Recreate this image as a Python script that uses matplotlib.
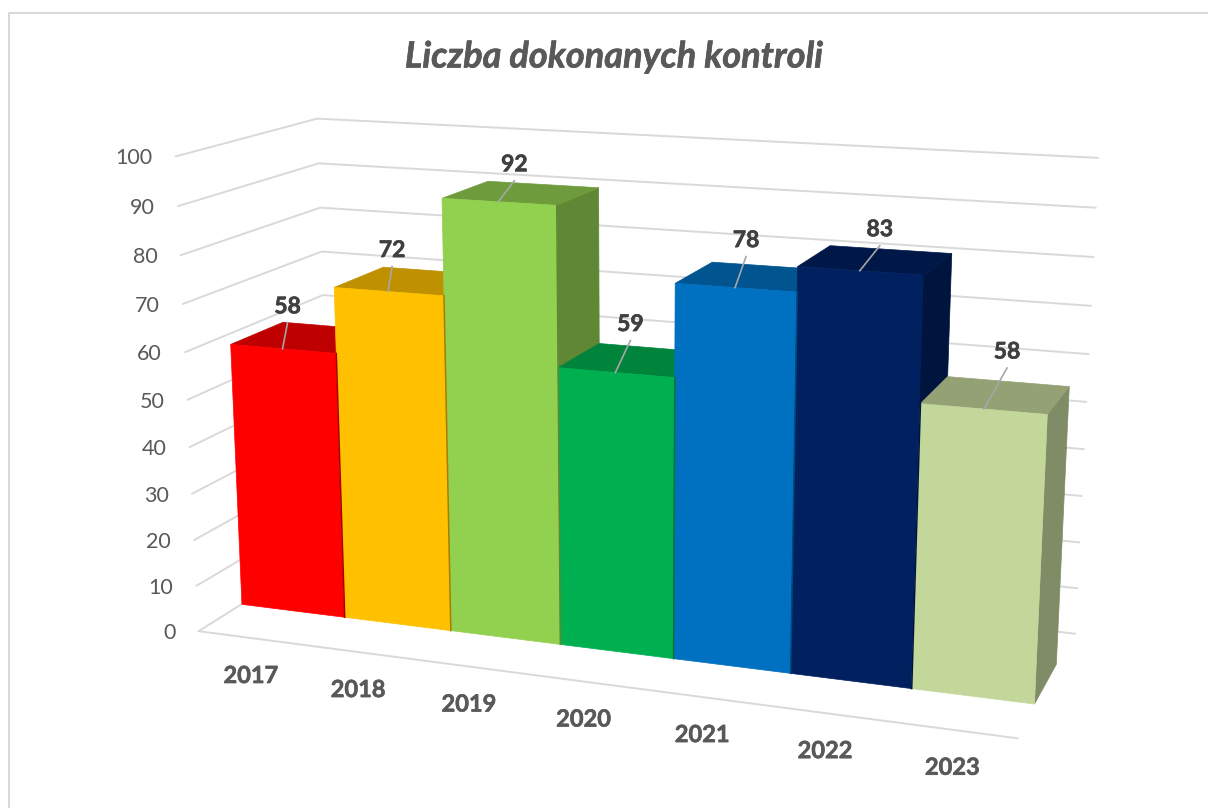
import matplotlib
matplotlib.use("Agg")
import matplotlib.pyplot as plt
import matplotlib.patheffects as pe
from matplotlib.colors import to_rgb
from matplotlib.patches import Polygon
import numpy as np

# =========================
# INPUT DATA
# =========================
title = "Liczba dokonanych kontroli"
years = ["2017", "2018", "2019", "2020", "2021", "2022", "2023"]
counts = [58, 72, 92, 59, 78, 83, 58]
y_ticks = [0, 10, 20, 30, 40, 50, 60, 70, 80, 90, 100]
bar_colors = ["#FF0000", "#FFC000", "#92D050", "#00B050", "#0070C0", "#002060", "#C4D79B"]

# =========================
# 3D BOX -> PICTURE PIXELS
# =========================
# corners of the chart box: (category, value, depth) and where they land
box_points = [
    (0, 0, 0, 199, 630),
    (0, 100, 0, 175, 157),
    (0, 0, 1, 331, 549),
    (0, 100, 1, 318, 118),
    (7, 0, 1, 1075, 633),
    (7, 100, 1, 1098, 158),
    (7, 0, 0, 1018, 739),
]

rows, rhs = [], []
for cx, cy, cz, u, v in box_points:
    p = [cx / 7, cy / 100, cz, 1]
    rows.append(p + [0, 0, 0, 0] + [-u * c for c in p[:3]])
    rows.append([0, 0, 0, 0] + p + [-v * c for c in p[:3]])
    rhs += [u, v]
sol = np.linalg.lstsq(np.array(rows, float), np.array(rhs, float), rcond=None)[0]
cam = np.append(sol, 1).reshape(3, 4)


def project(cx, cy, cz):
    h = cam @ np.array([cx / 7, cy / 100, cz, 1])
    return h[0] / h[2], h[1] / h[2]


def shade(color, k):
    return tuple(c * k for c in to_rgb(color))


def heavier(color, width=0.45):
    return [pe.withStroke(linewidth=width, foreground=color)]


# =========================
# FIGURE
# =========================
fig = plt.figure(figsize=(12.08, 8.08), dpi=100, facecolor="white")
ax = fig.add_axes([0, 0, 1, 1])
ax.set_xlim(0, 1208)
ax.set_ylim(808, 0)
ax.axis("off")
plt.rcParams["font.family"] = ["Lato", "DejaVu Sans"]

# chart frame, cut off on the right and at the bottom
ax.plot([9, 9, 1208], [808, 13, 13], color="#D9D9D9", lw=1.5)

ax.text(614, 57, title, fontsize=26, fontweight="bold", fontstyle="italic",
        color="#595959", ha="center", va="center", path_effects=heavier("#595959"))

# =========================
# WALLS AND TICKS
# =========================
grid = dict(color="#D9D9D9", lw=1.4, solid_capstyle="round", solid_joinstyle="round")
for val in y_ticks:
    pts = [project(0, val, 0), project(0, val, 1), project(7, val, 1)]
    ax.plot(*zip(*pts), **grid)
    x0, y0 = pts[0]
    ax.text(x0 - 23, y0 + 2, str(val), fontsize=15.5, color="#595959", ha="right", va="center")

ax.plot(*zip(project(0, 0, 0), project(7, 0, 0)), **grid)

for i, year in enumerate(years):
    x0, y0 = project(i + 0.5, 0, 0)
    ax.text(x0, y0 + 37.5, year, fontsize=17, fontweight="bold", color="#595959",
            ha="center", va="center", path_effects=heavier("#595959"))

# =========================
# BARS
# =========================
z_front, z_back = 0.30, 0.68
x_shift = 0.005
h_scale = 0.995  # bars stop just under the gridlines in the original
# leader line ends, pixels from the middle of the bar's top front edge
leader_dx = [5, 4, 16, 15, 11, 20, 23]
leader_dy = [-26, -25, -21, -32, -31, -25, -41]

for i, (val, col) in enumerate(zip(counts, bar_colors)):
    l, r = i + x_shift, min(i + 1 + x_shift, 7 - 0.015)
    h = val * h_scale
    dark = shade(col, 0.65)
    side = [project(r, 0, z_front), project(r, 0, z_back),
            project(r, h, z_back), project(r, h, z_front)]
    top = [project(l, h, z_front), project(r, h, z_front),
           project(r, h, z_back), project(l, h, z_back)]
    front = [project(l, 0, z_front), project(r, 0, z_front),
             project(r, h, z_front), project(l, h, z_front)]
    ax.add_patch(Polygon(side, fc=dark, ec=dark, lw=0.5, zorder=3 + i))
    ax.add_patch(Polygon(top, fc=shade(col, 0.75), ec=shade(col, 0.75), lw=0.5, zorder=3 + i))
    ax.add_patch(Polygon(front, fc=col, ec=col, lw=0.5, zorder=3 + i))
    # thin dark sliver of the side face between neighbouring bars
    if i < len(counts) - 1:
        ax.plot(*zip(project(r, 0, z_front), project(r, h, z_front)), color=dark, lw=1.1, zorder=15)

for i, val in enumerate(counts):
    x0, y0 = project(i + 0.5, val * h_scale, z_front)
    x1, y1 = x0 + leader_dx[i], y0 + leader_dy[i]
    ax.plot([x0, x1], [y0, y1], color="#A6A6A6", lw=1.2, zorder=20)
    ax.text(x1, y1 - 16, str(val), fontsize=16.5, fontweight="bold", color="#404040",
            ha="center", va="center", zorder=21, path_effects=heavier("#404040"))

fig.savefig("out.png", dpi=100, facecolor="white")
